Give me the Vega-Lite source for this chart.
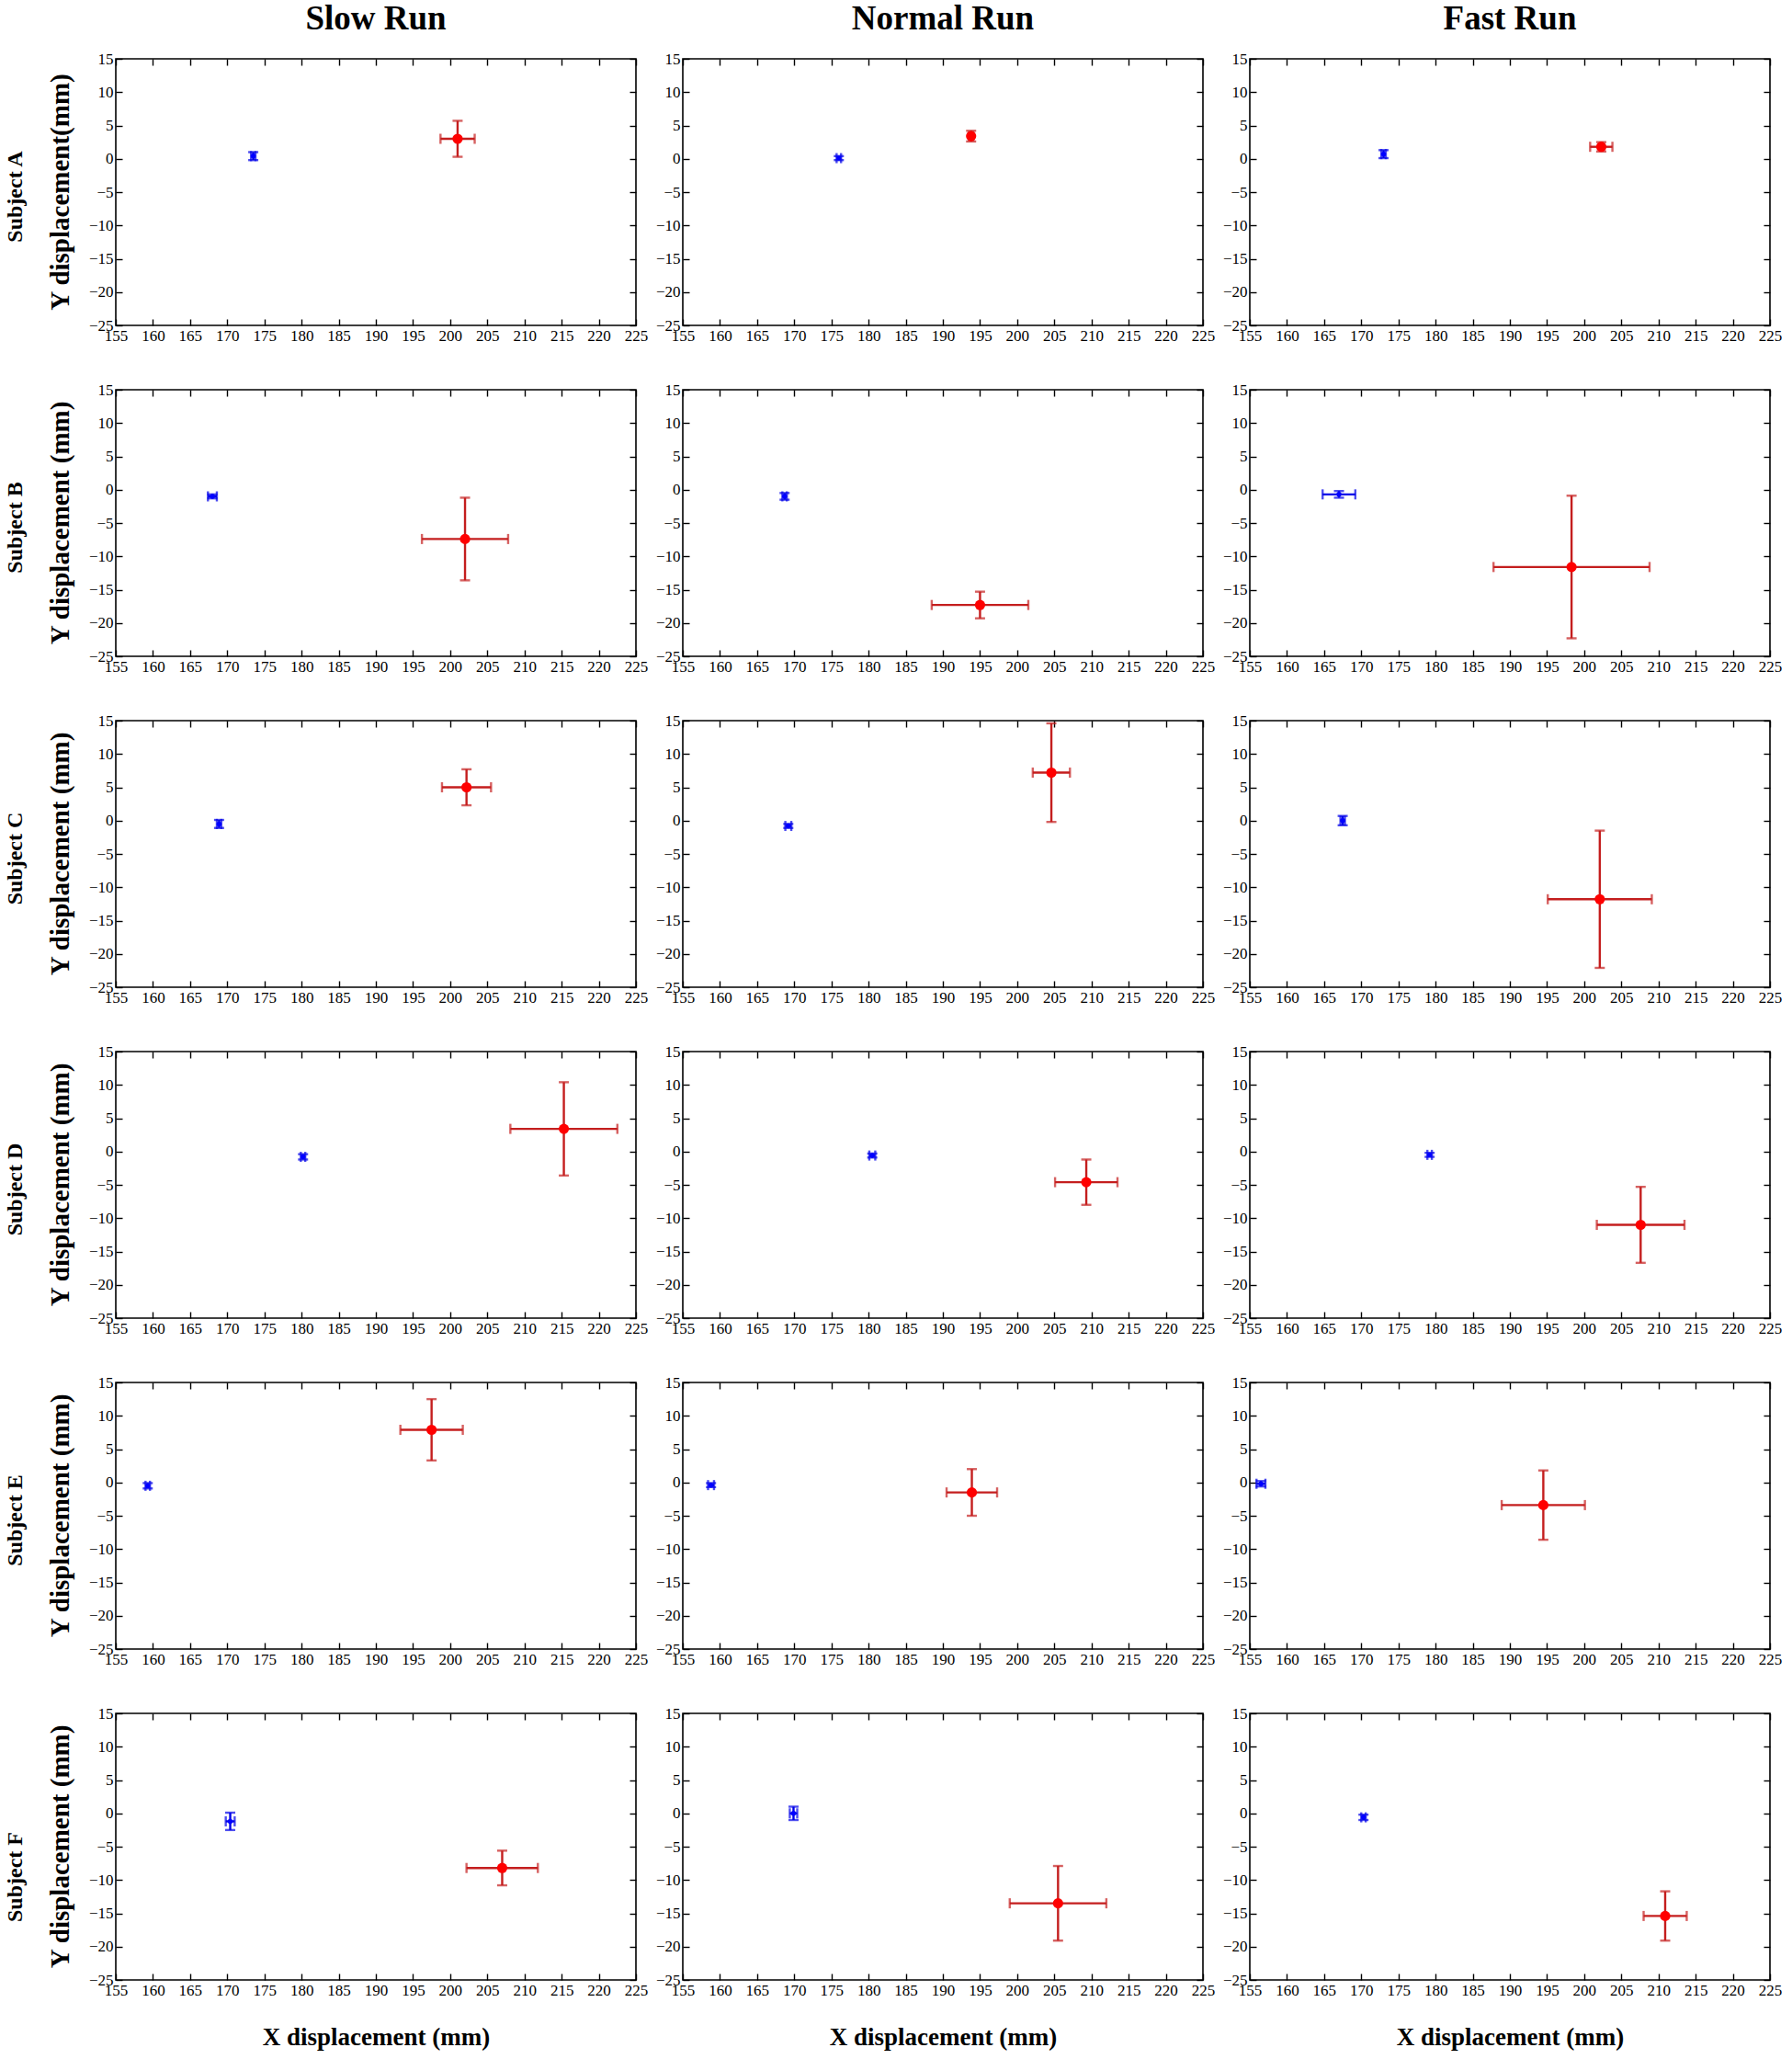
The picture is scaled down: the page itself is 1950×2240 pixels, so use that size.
{
  "$schema": "https://vega.github.io/schema/vega-lite/v6.json",
  "background": "white",
  "padding": {"left": 4, "top": 2, "right": 4, "bottom": 4},
  "data": {
    "values": [
      {"subject": "A", "run": "Slow Run", "grp": "blue", "x": 173.5, "y": 0.4, "xe": 0.3, "ye": 0.6},
      {"subject": "A", "run": "Slow Run", "grp": "red", "x": 201.0, "y": 3.0, "xe": 2.3, "ye": 2.7},
      {"subject": "A", "run": "Normal Run", "grp": "blue", "x": 176.0, "y": 0.1, "xe": 0.3, "ye": 0.3},
      {"subject": "A", "run": "Normal Run", "grp": "red", "x": 193.8, "y": 3.4, "xe": 0.3, "ye": 0.8},
      {"subject": "A", "run": "Fast Run", "grp": "blue", "x": 173.0, "y": 0.7, "xe": 0.3, "ye": 0.6},
      {"subject": "A", "run": "Fast Run", "grp": "red", "x": 202.3, "y": 1.8, "xe": 1.5, "ye": 0.7},
      {"subject": "B", "run": "Slow Run", "grp": "blue", "x": 168.0, "y": -1.0, "xe": 0.6, "ye": 0.3},
      {"subject": "B", "run": "Slow Run", "grp": "red", "x": 202.0, "y": -7.4, "xe": 5.8, "ye": 6.2},
      {"subject": "B", "run": "Normal Run", "grp": "blue", "x": 168.7, "y": -1.0, "xe": 0.3, "ye": 0.5},
      {"subject": "B", "run": "Normal Run", "grp": "red", "x": 195.0, "y": -17.3, "xe": 6.5, "ye": 2.0},
      {"subject": "B", "run": "Fast Run", "grp": "blue", "x": 167.0, "y": -0.7, "xe": 2.2, "ye": 0.5},
      {"subject": "B", "run": "Fast Run", "grp": "red", "x": 198.3, "y": -11.6, "xe": 10.5, "ye": 10.7},
      {"subject": "C", "run": "Slow Run", "grp": "blue", "x": 168.9, "y": -0.5, "xe": 0.3, "ye": 0.6},
      {"subject": "C", "run": "Slow Run", "grp": "red", "x": 202.2, "y": 5.0, "xe": 3.3, "ye": 2.7},
      {"subject": "C", "run": "Normal Run", "grp": "blue", "x": 169.2, "y": -0.8, "xe": 0.4, "ye": 0.3},
      {"subject": "C", "run": "Normal Run", "grp": "red", "x": 204.6, "y": 7.2, "xe": 2.5, "ye": 7.4},
      {"subject": "C", "run": "Fast Run", "grp": "blue", "x": 167.5, "y": 0.0, "xe": 0.3, "ye": 0.7},
      {"subject": "C", "run": "Fast Run", "grp": "red", "x": 202.1, "y": -11.8, "xe": 7.0, "ye": 10.3},
      {"subject": "D", "run": "Slow Run", "grp": "blue", "x": 180.2, "y": -0.8, "xe": 0.3, "ye": 0.4},
      {"subject": "D", "run": "Slow Run", "grp": "red", "x": 215.3, "y": 3.4, "xe": 7.2, "ye": 7.0},
      {"subject": "D", "run": "Normal Run", "grp": "blue", "x": 180.5, "y": -0.6, "xe": 0.4, "ye": 0.3},
      {"subject": "D", "run": "Normal Run", "grp": "red", "x": 209.3, "y": -4.6, "xe": 4.2, "ye": 3.4},
      {"subject": "D", "run": "Fast Run", "grp": "blue", "x": 179.2, "y": -0.5, "xe": 0.3, "ye": 0.3},
      {"subject": "D", "run": "Fast Run", "grp": "red", "x": 207.6, "y": -11.0, "xe": 5.9, "ye": 5.7},
      {"subject": "E", "run": "Slow Run", "grp": "blue", "x": 159.3, "y": -0.5, "xe": 0.3, "ye": 0.4},
      {"subject": "E", "run": "Slow Run", "grp": "red", "x": 197.5, "y": 7.9, "xe": 4.2, "ye": 4.6},
      {"subject": "E", "run": "Normal Run", "grp": "blue", "x": 158.8, "y": -0.4, "xe": 0.4, "ye": 0.3},
      {"subject": "E", "run": "Normal Run", "grp": "red", "x": 193.9, "y": -1.5, "xe": 3.4, "ye": 3.5},
      {"subject": "E", "run": "Fast Run", "grp": "blue", "x": 156.5, "y": -0.2, "xe": 0.6, "ye": 0.4},
      {"subject": "E", "run": "Fast Run", "grp": "red", "x": 194.5, "y": -3.4, "xe": 5.6, "ye": 5.2},
      {"subject": "F", "run": "Slow Run", "grp": "blue", "x": 170.4, "y": -1.2, "xe": 0.6, "ye": 1.3},
      {"subject": "F", "run": "Slow Run", "grp": "red", "x": 207.0, "y": -8.2, "xe": 4.8, "ye": 2.6},
      {"subject": "F", "run": "Normal Run", "grp": "blue", "x": 169.9, "y": 0.0, "xe": 0.5, "ye": 1.0},
      {"subject": "F", "run": "Normal Run", "grp": "red", "x": 205.5, "y": -13.5, "xe": 6.5, "ye": 5.6},
      {"subject": "F", "run": "Fast Run", "grp": "blue", "x": 170.3, "y": -0.6, "xe": 0.3, "ye": 0.4},
      {"subject": "F", "run": "Fast Run", "grp": "red", "x": 210.9, "y": -15.4, "xe": 2.9, "ye": 3.7}
    ]
  },
  "spacing": 40,
  "vconcat": [
    {
      "transform": [{"filter": "datum.subject == 'A'"}],
      "facet": {
        "row": {"field": "subject", "type": "nominal", "header": {"title": "Subject A", "labelExpr": "'Y displacement(mm)'"}},
        "column": {"field": "run", "type": "nominal", "sort": ["Slow Run", "Normal Run", "Fast Run"], "header": {"title": null}}
      },
      "spacing": {"column": 6},
      "resolve": {"axis": {"x": "independent", "y": "independent"}},
      "spec": {
        "width": 566, "height": 290,
        "resolve": {"axis": {"x": "independent", "y": "independent"}},
        "layer": [
          {"mark": {"type": "errorbar", "ticks": true, "size": 11, "thickness": 2.4},
           "encoding": {
             "x": {"field": "x", "type": "quantitative", "scale": {"domain": [155, 225]}, "axis": {"orient": "top", "labels": false, "title": null, "values": [155,160,165,170,175,180,185,190,195,200,205,210,215,220,225]}},
             "xError": {"field": "xe"},
             "y": {"field": "y", "type": "quantitative", "scale": {"domain": [-25, 15]}, "axis": {"orient": "right", "labels": false, "title": null, "values": [-25,-20,-15,-10,-5,0,5,10,15]}},
             "color": {"field": "grp", "type": "nominal", "scale": {"domain": ["blue", "red"], "range": ["#0000e8", "#c41e1e"]}}}},
          {"mark": {"type": "errorbar", "ticks": true, "size": 11, "thickness": 2.4},
           "encoding": {
             "x": {"field": "x", "type": "quantitative", "axis": null},
             "y": {"field": "y", "type": "quantitative", "axis": null},
             "yError": {"field": "ye"},
             "color": {"field": "grp", "type": "nominal"}}},
          {"mark": {"type": "point", "filled": true, "opacity": 1, "strokeWidth": 0},
           "encoding": {
             "x": {"field": "x", "type": "quantitative", "axis": {"title": null, "values": [155,160,165,170,175,180,185,190,195,200,205,210,215,220,225]}},
             "y": {"field": "y", "type": "quantitative", "axis": {"title": null, "values": [-25,-20,-15,-10,-5,0,5,10,15]}},
             "fill": {"field": "grp", "type": "nominal", "scale": {"domain": ["blue", "red"], "range": ["#0000ff", "#ff0000"]}},
             "size": {"field": "grp", "type": "nominal", "scale": {"domain": ["blue", "red"], "range": [30, 125]}}}}
        ]
      }
    },
    {
      "transform": [{"filter": "datum.subject == 'B'"}],
      "facet": {
        "row": {"field": "subject", "type": "nominal", "header": {"title": "Subject B", "labelExpr": "'Y displacement (mm)'"}},
        "column": {"field": "run", "type": "nominal", "sort": ["Slow Run", "Normal Run", "Fast Run"], "header": {"title": null, "labels": false}}
      },
      "spacing": {"column": 6},
      "resolve": {"axis": {"x": "independent", "y": "independent"}},
      "spec": {
        "width": 566, "height": 290,
        "resolve": {"axis": {"x": "independent", "y": "independent"}},
        "layer": [
          {"mark": {"type": "errorbar", "ticks": true, "size": 11, "thickness": 2.4},
           "encoding": {
             "x": {"field": "x", "type": "quantitative", "scale": {"domain": [155, 225]}, "axis": {"orient": "top", "labels": false, "title": null, "values": [155,160,165,170,175,180,185,190,195,200,205,210,215,220,225]}},
             "xError": {"field": "xe"},
             "y": {"field": "y", "type": "quantitative", "scale": {"domain": [-25, 15]}, "axis": {"orient": "right", "labels": false, "title": null, "values": [-25,-20,-15,-10,-5,0,5,10,15]}},
             "color": {"field": "grp", "type": "nominal", "scale": {"domain": ["blue", "red"], "range": ["#0000e8", "#c41e1e"]}}}},
          {"mark": {"type": "errorbar", "ticks": true, "size": 11, "thickness": 2.4},
           "encoding": {
             "x": {"field": "x", "type": "quantitative", "axis": null},
             "y": {"field": "y", "type": "quantitative", "axis": null},
             "yError": {"field": "ye"},
             "color": {"field": "grp", "type": "nominal"}}},
          {"mark": {"type": "point", "filled": true, "opacity": 1, "strokeWidth": 0},
           "encoding": {
             "x": {"field": "x", "type": "quantitative", "axis": {"title": null, "values": [155,160,165,170,175,180,185,190,195,200,205,210,215,220,225]}},
             "y": {"field": "y", "type": "quantitative", "axis": {"title": null, "values": [-25,-20,-15,-10,-5,0,5,10,15]}},
             "fill": {"field": "grp", "type": "nominal", "scale": {"domain": ["blue", "red"], "range": ["#0000ff", "#ff0000"]}},
             "size": {"field": "grp", "type": "nominal", "scale": {"domain": ["blue", "red"], "range": [30, 125]}}}}
        ]
      }
    },
    {
      "transform": [{"filter": "datum.subject == 'C'"}],
      "facet": {
        "row": {"field": "subject", "type": "nominal", "header": {"title": "Subject C", "labelExpr": "'Y displacement (mm)'"}},
        "column": {"field": "run", "type": "nominal", "sort": ["Slow Run", "Normal Run", "Fast Run"], "header": {"title": null, "labels": false}}
      },
      "spacing": {"column": 6},
      "resolve": {"axis": {"x": "independent", "y": "independent"}},
      "spec": {
        "width": 566, "height": 290,
        "resolve": {"axis": {"x": "independent", "y": "independent"}},
        "layer": [
          {"mark": {"type": "errorbar", "ticks": true, "size": 11, "thickness": 2.4},
           "encoding": {
             "x": {"field": "x", "type": "quantitative", "scale": {"domain": [155, 225]}, "axis": {"orient": "top", "labels": false, "title": null, "values": [155,160,165,170,175,180,185,190,195,200,205,210,215,220,225]}},
             "xError": {"field": "xe"},
             "y": {"field": "y", "type": "quantitative", "scale": {"domain": [-25, 15]}, "axis": {"orient": "right", "labels": false, "title": null, "values": [-25,-20,-15,-10,-5,0,5,10,15]}},
             "color": {"field": "grp", "type": "nominal", "scale": {"domain": ["blue", "red"], "range": ["#0000e8", "#c41e1e"]}}}},
          {"mark": {"type": "errorbar", "ticks": true, "size": 11, "thickness": 2.4},
           "encoding": {
             "x": {"field": "x", "type": "quantitative", "axis": null},
             "y": {"field": "y", "type": "quantitative", "axis": null},
             "yError": {"field": "ye"},
             "color": {"field": "grp", "type": "nominal"}}},
          {"mark": {"type": "point", "filled": true, "opacity": 1, "strokeWidth": 0},
           "encoding": {
             "x": {"field": "x", "type": "quantitative", "axis": {"title": null, "values": [155,160,165,170,175,180,185,190,195,200,205,210,215,220,225]}},
             "y": {"field": "y", "type": "quantitative", "axis": {"title": null, "values": [-25,-20,-15,-10,-5,0,5,10,15]}},
             "fill": {"field": "grp", "type": "nominal", "scale": {"domain": ["blue", "red"], "range": ["#0000ff", "#ff0000"]}},
             "size": {"field": "grp", "type": "nominal", "scale": {"domain": ["blue", "red"], "range": [30, 125]}}}}
        ]
      }
    },
    {
      "transform": [{"filter": "datum.subject == 'D'"}],
      "facet": {
        "row": {"field": "subject", "type": "nominal", "header": {"title": "Subject D", "labelExpr": "'Y displacement (mm)'"}},
        "column": {"field": "run", "type": "nominal", "sort": ["Slow Run", "Normal Run", "Fast Run"], "header": {"title": null, "labels": false}}
      },
      "spacing": {"column": 6},
      "resolve": {"axis": {"x": "independent", "y": "independent"}},
      "spec": {
        "width": 566, "height": 290,
        "resolve": {"axis": {"x": "independent", "y": "independent"}},
        "layer": [
          {"mark": {"type": "errorbar", "ticks": true, "size": 11, "thickness": 2.4},
           "encoding": {
             "x": {"field": "x", "type": "quantitative", "scale": {"domain": [155, 225]}, "axis": {"orient": "top", "labels": false, "title": null, "values": [155,160,165,170,175,180,185,190,195,200,205,210,215,220,225]}},
             "xError": {"field": "xe"},
             "y": {"field": "y", "type": "quantitative", "scale": {"domain": [-25, 15]}, "axis": {"orient": "right", "labels": false, "title": null, "values": [-25,-20,-15,-10,-5,0,5,10,15]}},
             "color": {"field": "grp", "type": "nominal", "scale": {"domain": ["blue", "red"], "range": ["#0000e8", "#c41e1e"]}}}},
          {"mark": {"type": "errorbar", "ticks": true, "size": 11, "thickness": 2.4},
           "encoding": {
             "x": {"field": "x", "type": "quantitative", "axis": null},
             "y": {"field": "y", "type": "quantitative", "axis": null},
             "yError": {"field": "ye"},
             "color": {"field": "grp", "type": "nominal"}}},
          {"mark": {"type": "point", "filled": true, "opacity": 1, "strokeWidth": 0},
           "encoding": {
             "x": {"field": "x", "type": "quantitative", "axis": {"title": null, "values": [155,160,165,170,175,180,185,190,195,200,205,210,215,220,225]}},
             "y": {"field": "y", "type": "quantitative", "axis": {"title": null, "values": [-25,-20,-15,-10,-5,0,5,10,15]}},
             "fill": {"field": "grp", "type": "nominal", "scale": {"domain": ["blue", "red"], "range": ["#0000ff", "#ff0000"]}},
             "size": {"field": "grp", "type": "nominal", "scale": {"domain": ["blue", "red"], "range": [30, 125]}}}}
        ]
      }
    },
    {
      "transform": [{"filter": "datum.subject == 'E'"}],
      "facet": {
        "row": {"field": "subject", "type": "nominal", "header": {"title": "Subject E", "labelExpr": "'Y displacement (mm)'"}},
        "column": {"field": "run", "type": "nominal", "sort": ["Slow Run", "Normal Run", "Fast Run"], "header": {"title": null, "labels": false}}
      },
      "spacing": {"column": 6},
      "resolve": {"axis": {"x": "independent", "y": "independent"}},
      "spec": {
        "width": 566, "height": 290,
        "resolve": {"axis": {"x": "independent", "y": "independent"}},
        "layer": [
          {"mark": {"type": "errorbar", "ticks": true, "size": 11, "thickness": 2.4},
           "encoding": {
             "x": {"field": "x", "type": "quantitative", "scale": {"domain": [155, 225]}, "axis": {"orient": "top", "labels": false, "title": null, "values": [155,160,165,170,175,180,185,190,195,200,205,210,215,220,225]}},
             "xError": {"field": "xe"},
             "y": {"field": "y", "type": "quantitative", "scale": {"domain": [-25, 15]}, "axis": {"orient": "right", "labels": false, "title": null, "values": [-25,-20,-15,-10,-5,0,5,10,15]}},
             "color": {"field": "grp", "type": "nominal", "scale": {"domain": ["blue", "red"], "range": ["#0000e8", "#c41e1e"]}}}},
          {"mark": {"type": "errorbar", "ticks": true, "size": 11, "thickness": 2.4},
           "encoding": {
             "x": {"field": "x", "type": "quantitative", "axis": null},
             "y": {"field": "y", "type": "quantitative", "axis": null},
             "yError": {"field": "ye"},
             "color": {"field": "grp", "type": "nominal"}}},
          {"mark": {"type": "point", "filled": true, "opacity": 1, "strokeWidth": 0},
           "encoding": {
             "x": {"field": "x", "type": "quantitative", "axis": {"title": null, "values": [155,160,165,170,175,180,185,190,195,200,205,210,215,220,225]}},
             "y": {"field": "y", "type": "quantitative", "axis": {"title": null, "values": [-25,-20,-15,-10,-5,0,5,10,15]}},
             "fill": {"field": "grp", "type": "nominal", "scale": {"domain": ["blue", "red"], "range": ["#0000ff", "#ff0000"]}},
             "size": {"field": "grp", "type": "nominal", "scale": {"domain": ["blue", "red"], "range": [30, 125]}}}}
        ]
      }
    },
    {
      "transform": [{"filter": "datum.subject == 'F'"}],
      "facet": {
        "row": {"field": "subject", "type": "nominal", "header": {"title": "Subject F", "labelExpr": "'Y displacement (mm)'"}},
        "column": {"field": "run", "type": "nominal", "sort": ["Slow Run", "Normal Run", "Fast Run"], "header": {"title": null, "labels": false}}
      },
      "spacing": {"column": 6},
      "resolve": {"axis": {"x": "independent", "y": "independent"}},
      "spec": {
        "width": 566, "height": 290,
        "resolve": {"axis": {"x": "independent", "y": "independent"}},
        "layer": [
          {"mark": {"type": "errorbar", "ticks": true, "size": 11, "thickness": 2.4},
           "encoding": {
             "x": {"field": "x", "type": "quantitative", "scale": {"domain": [155, 225]}, "axis": {"orient": "top", "labels": false, "title": null, "values": [155,160,165,170,175,180,185,190,195,200,205,210,215,220,225]}},
             "xError": {"field": "xe"},
             "y": {"field": "y", "type": "quantitative", "scale": {"domain": [-25, 15]}, "axis": {"orient": "right", "labels": false, "title": null, "values": [-25,-20,-15,-10,-5,0,5,10,15]}},
             "color": {"field": "grp", "type": "nominal", "scale": {"domain": ["blue", "red"], "range": ["#0000e8", "#c41e1e"]}}}},
          {"mark": {"type": "errorbar", "ticks": true, "size": 11, "thickness": 2.4},
           "encoding": {
             "x": {"field": "x", "type": "quantitative", "axis": null},
             "y": {"field": "y", "type": "quantitative", "axis": null},
             "yError": {"field": "ye"},
             "color": {"field": "grp", "type": "nominal"}}},
          {"mark": {"type": "point", "filled": true, "opacity": 1, "strokeWidth": 0},
           "encoding": {
             "x": {"field": "x", "type": "quantitative", "axis": {"title": "X displacement (mm)", "values": [155,160,165,170,175,180,185,190,195,200,205,210,215,220,225]}},
             "y": {"field": "y", "type": "quantitative", "axis": {"title": null, "values": [-25,-20,-15,-10,-5,0,5,10,15]}},
             "fill": {"field": "grp", "type": "nominal", "scale": {"domain": ["blue", "red"], "range": ["#0000ff", "#ff0000"]}},
             "size": {"field": "grp", "type": "nominal", "scale": {"domain": ["blue", "red"], "range": [30, 125]}}}}
        ]
      }
    }
  ],
  "config": {
    "font": "Liberation Serif",
    "view": {"stroke": "black", "strokeWidth": 1.6},
    "legend": {"disable": true},
    "axis": {
      "grid": false,
      "domain": false,
      "tickColor": "black",
      "tickWidth": 1.4,
      "tickSize": -7,
      "labelPadding": 10,
      "labelFlush": false,
      "labelFont": "Liberation Serif",
      "labelFontSize": 17,
      "labelColor": "black",
      "titleFont": "Liberation Serif",
      "titleFontSize": 27,
      "titleFontWeight": "bold",
      "titleColor": "black",
      "titlePadding": 30
    },
    "headerRow": {
      "titleFont": "Liberation Serif",
      "titleFontSize": 24,
      "titleFontWeight": "bold",
      "titleColor": "black",
      "titleAngle": -90,
      "titlePadding": -12,
      "labelFont": "Liberation Serif",
      "labelFontSize": 29,
      "labelFontWeight": "bold",
      "labelColor": "black",
      "labelAngle": -90,
      "labelPadding": 0
    },
    "headerColumn": {
      "labelFont": "Liberation Serif",
      "labelFontSize": 37,
      "labelFontWeight": "bold",
      "labelColor": "black",
      "labelPadding": 14
    }
  }
}
